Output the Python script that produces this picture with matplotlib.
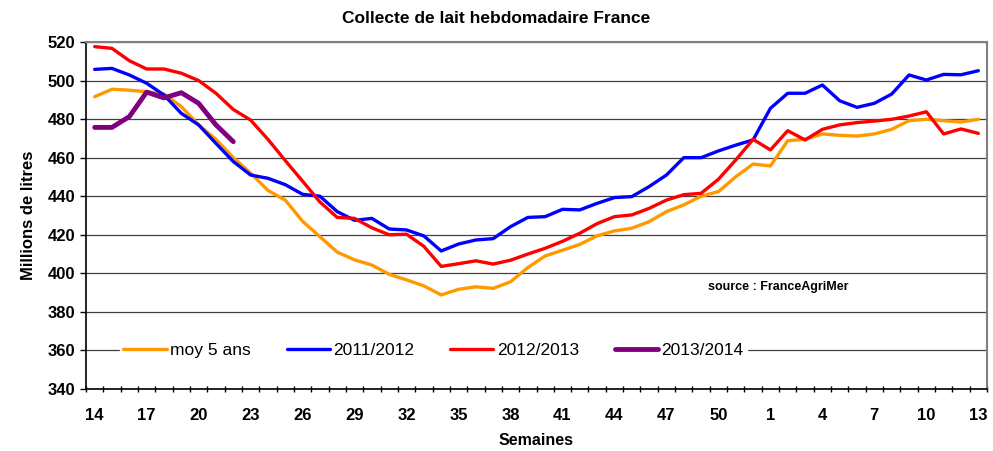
import matplotlib
matplotlib.use("Agg")
import matplotlib.pyplot as plt
import numpy as np

# weeks 14..52 then 1..13
weeks = list(range(14, 53)) + list(range(1, 14))

moy5ans = [491.6, 495.5, 495.0, 494.2, 493.0, 486.5, 477.0, 469.5, 460.0, 452.0,
           443.0, 438.0, 427.0, 419.0, 411.0, 407.0, 404.3, 399.5, 396.6, 393.5,
           388.8, 391.7, 393.0, 392.2, 395.6, 403.0, 409.0, 412.0, 415.0, 419.5,
           422.0, 423.4, 426.8, 432.0, 435.5, 440.0, 442.4, 450.1, 456.7, 455.7,
           468.8, 469.5, 472.3, 471.6, 471.2, 472.3, 474.7, 479.2, 479.9, 479.2,
           478.5, 479.9]

y2011_2012 = [505.8, 506.3, 502.9, 498.6, 492.5, 483.0, 477.0, 467.4, 458.0, 451.0,
              449.3, 446.0, 441.0, 440.0, 432.0, 427.5, 428.5, 423.0, 422.5, 419.4,
              411.6, 415.2, 417.3, 418.0, 424.2, 429.0, 429.4, 433.2, 432.9, 436.3,
              439.3, 439.8, 445.0, 451.0, 460.0, 460.0, 463.5, 466.5, 469.2, 485.6,
              493.4, 493.4, 497.7, 489.5, 486.1, 488.2, 493.0, 502.9, 500.3, 503.2,
              503.0, 505.1]

y2012_2013 = [517.6, 516.7, 510.3, 506.0, 506.0, 503.8, 500.0, 493.4, 485.0, 479.5,
              469.5, 458.5, 447.8, 437.0, 429.0, 428.5, 423.6, 420.0, 420.3, 414.0,
              403.6, 405.0, 406.5, 404.8, 406.8, 410.0, 413.0, 416.6, 420.8, 425.8,
              429.4, 430.3, 433.7, 438.0, 440.8, 441.5, 448.8, 458.8, 469.5, 464.0,
              474.0, 469.2, 474.7, 477.0, 478.2, 479.0, 479.9, 481.6, 483.8, 472.3,
              474.9, 472.6]

y2013_2014 = [475.7, 475.7, 481.3, 494.0, 491.0, 493.7, 488.2, 477.0, 468.3]

series = [
    ("moy 5 ans", moy5ans, "#FF9900", 2.4),
    ("2011/2012", y2011_2012, "#0000FF", 2.4),
    ("2012/2013", y2012_2013, "#FF0000", 2.4),
    ("2013/2014", y2013_2014, "#800080", 3.5),
]

plt.rcParams['font.family'] = ['Liberation Sans', 'DejaVu Sans']

fig = plt.figure(figsize=(9.93, 4.51), dpi=100)
ax = fig.add_axes([86 / 993, 1 - 389 / 451, 901 / 993, 347 / 451])

for name, vals, col, lw in series:
    ax.plot(np.arange(len(vals)), vals, color=col, lw=lw, label=name,
            solid_capstyle='round', solid_joinstyle='round')

ax.set_xlim(-0.5, len(weeks) - 0.5)
ax.set_ylim(340, 520)
ax.set_yticks(np.arange(340, 521, 20))
ax.yaxis.grid(True, color='#404040', lw=0.9)
ax.set_axisbelow(True)

xpos = np.arange(0, len(weeks), 3)
ax.set_xticks(xpos)
ax.set_xticklabels([str(weeks[i]) for i in xpos], fontweight='bold', fontsize=12)
ax.set_xticks(np.arange(-0.5, len(weeks)), minor=True)
ax.tick_params(axis='x', which='major', length=0, pad=14)
ax.tick_params(axis='x', which='minor', length=4, direction='inout', width=1)
ax.tick_params(axis='y', length=4, width=1, pad=4)
for lab in ax.get_yticklabels():
    lab.set_fontweight('bold')
    lab.set_fontsize(12)

for side in ['top', 'right']:
    ax.spines[side].set_color('#808080')
    ax.spines[side].set_linewidth(1.5)
for side in ['left', 'bottom']:
    ax.spines[side].set_color('black')
    ax.spines[side].set_linewidth(1.2)

ax.set_xlabel("Semaines", fontweight='bold', fontsize=11.5, labelpad=7)
ax.set_ylabel("Millions de litres", fontweight='bold', fontsize=12, labelpad=8)
fig.suptitle("Collecte de lait hebdomadaire France", fontweight='bold', fontsize=12.5, y=0.975)

ax.text(0.69, 0.285, "source : FranceAgriMer", transform=ax.transAxes,
        fontsize=9, fontweight='bold')

leg = ax.legend(loc='center left', bbox_to_anchor=(0.028, 0.111), ncol=4, frameon=True,
                fancybox=False, edgecolor='white', facecolor='white', framealpha=1,
                fontsize=12.5, handlelength=2.5, columnspacing=2.05, handletextpad=0.2,
                borderpad=0.2)

fig.savefig("out.png", dpi=100)
